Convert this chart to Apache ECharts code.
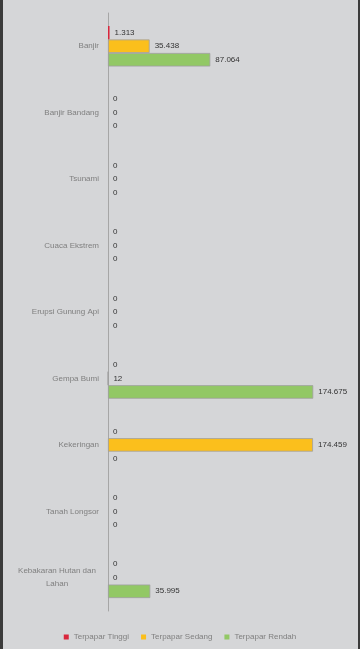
<!DOCTYPE html>
<html><head><meta charset="utf-8">
<script src="https://cdn.jsdelivr.net/npm/echarts@6/dist/echarts.min.js"></script>
<style>
html,body{margin:0;padding:0;width:360px;height:649px;background:#d5d6d8;overflow:hidden}
#frame{position:absolute;left:0;top:0;width:355px;height:649px;border-left:3px solid #3b3b3b;border-right:2px solid #3b3b3b;background:#d5d6d8}
#chart{position:absolute;left:0;top:0;width:360px;height:649px}
</style></head>
<body><div id="frame"></div><div id="chart"></div>
<script>
const categories = ["Banjir","Banjir Bandang","Tsunami","Cuaca Ekstrem","Erupsi Gunung Api","Gempa Bumi","Kekeringan","Tanah Longsor","Kebakaran Hutan dan Lahan"];
const seriesNames = ["Terpapar Tinggi","Terpapar Sedang","Terpapar Rendah"];
const tinggi = [1313,0,0,0,0,0,0,0,0];
const sedang = [35438,0,0,0,0,12,174459,0,0];
const rendah = [87064,0,0,0,0,174675,0,0,35995];
const colors = ["#d9263c","#fbbf1c","#92c865"];

function fmt(v){ return String(v).replace(/\B(?=(\d{3})+(?!\d))/g, "."); }
const font = "'Liberation Sans',sans-serif";
const chart = echarts.init(document.getElementById('chart'), null, {renderer:'canvas'});
const data = [tinggi, sedang, rendah];
chart.setOption({
  backgroundColor: 'transparent',
  animation: false,
  grid: {left:108, right:17, top:13, bottom:38},
  xAxis: {type:'value', min:0, max:200000, show:false},
  yAxis: {type:'category', data:categories, inverse:true,
    axisLine:{show:true, lineStyle:{color:'#a6a6a6', width:1}},
    axisTick:{show:false},
    axisLabel:{margin:9, color:'#7f7f7f', fontSize:8, fontFamily:font,
      formatter: function(v){ return v.length>20 ? '{c|Kebakaran Hutan dan}\n{c|Lahan}' : v; },
      rich:{c:{align:'center', color:'#7f7f7f', fontSize:8, fontFamily:font, width:84, lineHeight:13}}
    }
  },
  legend: {bottom:3, left:'center', itemWidth:5, itemHeight:5, itemGap:12, icon:'rect',
    itemStyle:{borderWidth:0},
    textStyle:{color:'#7f7f7f', fontSize:8, fontFamily:font}, data:seriesNames},
  series: seriesNames.map((n,i)=>({
    name:n, type:'bar', barGap:'0%', barCategoryGap:'39%',
    data:data[i].map(v=> v===0 ? {value:v, itemStyle:{borderWidth:0}} : v),
    itemStyle:{color:colors[i], borderColor:'#a0a0a0', borderWidth: i===0 ? 0 : 0.8},
    label:{show:true, position:'right', distance:5, color:'#333', fontSize:8, fontFamily:font,
      formatter:p=>fmt(p.value)}
  }))
});
</script></body></html>
